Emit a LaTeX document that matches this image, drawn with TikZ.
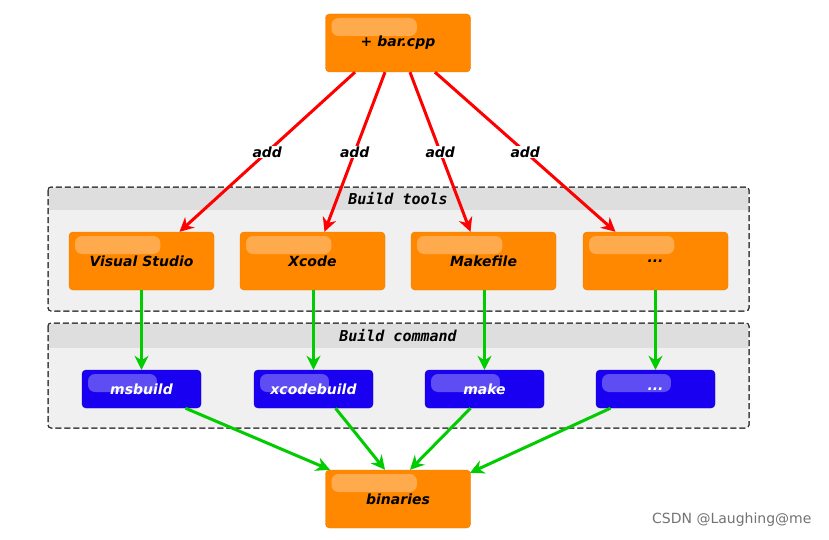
\documentclass[tikz,border=0pt]{standalone}
\usepackage{fontspec}
\setmainfont{DejaVu Sans}
\newfontfamily\monof{DejaVu Sans Mono}
\usetikzlibrary{arrows.meta,calc}
\definecolor{org}{RGB}{255,136,0}
\definecolor{blu}{RGB}{26,0,240}
\definecolor{grn}{RGB}{0,204,0}
\tikzset{
 gl/.style={path picture={\fill[white,opacity=0.3,rounded corners=7pt] ([xshift=6pt,yshift=-4pt]path picture bounding box.north west) rectangle ([yshift=-22pt]$(path picture bounding box.north west)!0.63!(path picture bounding box.north east)$);}},
 box/.style={gl,rounded corners=4pt,minimum width=#1,inner sep=0pt,font=\bfseries\itshape\fontsize{14}{16}\selectfont},
 onode/.style={box=145pt,minimum height=58pt,fill=org,draw=org!90!black},
 bnode/.style={box=119pt,minimum height=38pt,fill=blu,draw=blu!80!black,text=white},
 ra/.style={draw=red,line width=3pt,-{Stealth[length=14pt,width=14pt]}},
 ga/.style={draw=grn,line width=3pt,-{Stealth[length=14pt,width=14pt]}},
 lab/.style={font=\bfseries\itshape\fontsize{14}{16}\selectfont,fill=white,inner sep=1pt,pos=0.5},
 clus/.style={draw=black!80,dash pattern=on 6pt off 3pt,line width=1pt,rounded corners=3pt,fill=black!6},
}
\begin{document}
\begin{tikzpicture}[x=1pt,y=-1pt]
\useasboundingbox (0,0) rectangle (829,540);
\fill[white] (0,0) rectangle (829,540);
\draw[clus] (48,187) rectangle (749,311);
\fill[black!13] (49,188) rectangle (748,210);
\draw[clus,fill=none] (48,187) rectangle (749,311);
\node[font=\monof\bfseries\itshape\fontsize{15}{17}\selectfont] (t1) at (398,199) {Build tools};
\draw[clus] (48,323) rectangle (749,428);
\fill[black!13] (49,324) rectangle (748,348);
\draw[clus,fill=none] (48,323) rectangle (749,428);
\node[font=\monof\bfseries\itshape\fontsize{15}{17}\selectfont] (t2) at (398,336) {Build command};
\node[onode] (bar) at (398,43) {+ bar.cpp};
\node[onode] (vs) at (141.5,261) {Visual Studio};
\node[onode] (xc) at (312.5,261) {Xcode};
\node[onode] (mf) at (483.5,261) {Makefile};
\node[onode] (d1) at (655.5,261) {...};
\node[bnode] (ms) at (141.5,389) {msbuild};
\node[bnode] (xb) at (313.5,389) {xcodebuild};
\node[bnode] (mk) at (484.5,389) {make};
\node[bnode] (d2) at (655.5,389) {...};
\node[onode] (bin) at (398,499) {binaries};
\draw[ra] ([xshift=-43pt]bar.south) -- node[lab]{add} ([xshift=38pt]vs.north);
\draw[ra] ([xshift=-13pt]bar.south) -- node[lab]{add} ([xshift=12pt]xc.north);
\draw[ra] ([xshift=12pt]bar.south) -- node[lab]{add} ([xshift=-13pt]mf.north);
\draw[ra] ([xshift=37pt]bar.south) -- node[lab]{add} ([xshift=-40pt]d1.north);
\draw[ga] (vs.south -| ms.north) -- (ms.north);
\draw[ga] (xc.south -| xb.north) -- (xb.north);
\draw[ga] (mf.south -| mk.north) -- (mk.north);
\draw[ga] (d1.south -| d2.north) -- (d2.north);
\draw[ga] ([xshift=44pt]ms.south) -- ([xshift=-68pt]bin.north);
\draw[ga] ([xshift=22pt]xb.south) -- ([xshift=-13pt]bin.north);
\draw[ga] ([xshift=-14pt]mk.south) -- ([xshift=12pt]bin.north);
\draw[ga] ([xshift=-45pt]d2.south) -- ([xshift=72pt,yshift=-3pt]bin.north);
\node[text=black!55,font=\fontsize{14}{16}\selectfont,anchor=east] (wm) at (815,520) {CSDN @Laughing@me};
\end{tikzpicture}
\end{document}
